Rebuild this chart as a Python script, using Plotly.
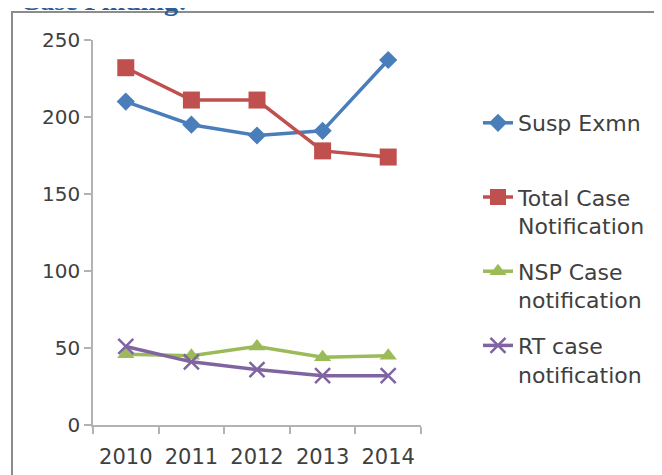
import plotly.graph_objects as go

years = ["2010", "2011", "2012", "2013", "2014"]
susp_exmn = [210, 195, 188, 191, 237]
total_case = [232, 211, 211, 178, 174]
nsp_case = [46, 45, 51, 44, 45]
rt_case = [51, 41, 36, 32, 32]

series_names = ["Susp Exmn<br> ", "Total Case<br>Notification",
                "NSP Case<br>notification", "RT case<br>notification"]
colors = ["#4A7EBB", "#C0504D", "#9BBB59", "#8064A2"]
symbols = ["diamond", "square", "triangle-up", "x-thin"]
sizes = [14, 17, 15, 15]

# page body offset of the figure div
OX, OY = 8, 8
W, H = 662, 475
L, R, T, B = 93 - OX, 241 + OX, 40 - OY, 50 + OY
pw, ph = W - L - R, H - T - B

def px2x(px):
    return (px - OX - L) / pw

def py2y(py):
    return (H - B - (py - OY)) / ph

fig = go.Figure()
for i, vals in enumerate([susp_exmn, total_case, nsp_case, rt_case]):
    fig.add_trace(go.Scatter(
        x=years, y=vals, name=series_names[i], mode="lines+markers",
        legendgroup=str(i),
        line=dict(color=colors[i], width=3.5),
        marker=dict(symbol=symbols[i], size=sizes[i], color=colors[i],
                    line=dict(color=colors[i], width=2.5 if i == 3 else 0)),
    ))

axis_col = "#B3B3B3"
font_col = "#404040"
fig.update_layout(
    width=W, height=H,
    margin=dict(l=L, r=R, t=T, b=B),
    paper_bgcolor="white", plot_bgcolor="white",
    font=dict(family="DejaVu Sans", size=21, color=font_col),
    showlegend=True,
    legend=dict(x=px2x(478), xanchor="left", y=py2y(102), yanchor="top",
                valign="top", tracegroupgap=14,
                font=dict(family="DejaVu Sans", size=22, color=font_col),
                bgcolor="rgba(0,0,0,0)"),
    xaxis=dict(type="category", showline=True, linecolor=axis_col, linewidth=1.5,
               ticks="outside", tickson="boundaries", ticklen=7, tickcolor=axis_col,
               tickwidth=1.5, showgrid=False, zeroline=False, ticklabelstandoff=12,
               tickfont=dict(size=21, color=font_col), range=[-0.5, 4.5]),
    yaxis=dict(range=[0, 250], tickvals=[0, 50, 100, 150, 200, 250], showline=True,
               linecolor=axis_col, linewidth=1.5, ticks="outside", ticklen=7,
               tickcolor=axis_col, tickwidth=1.5, showgrid=False, zeroline=False,
               tickfont=dict(size=20, color=font_col)),
    shapes=[dict(type="rect", xref="paper", yref="paper",
                 x0=px2x(12), x1=px2x(700), y0=py2y(520), y1=py2y(12),
                 line=dict(color="#8C8C8C", width=2), fillcolor="rgba(0,0,0,0)",
                 layer="below")],
    annotations=[dict(text="Case Finding:", xref="paper", yref="paper",
                      x=px2x(18), xanchor="left", y=py2y(18), yanchor="bottom",
                      showarrow=False,
                      font=dict(family="Liberation Serif", size=28, color="#2E5C99",
                                weight="bold"))],
)

fig.write_html("out.html")
